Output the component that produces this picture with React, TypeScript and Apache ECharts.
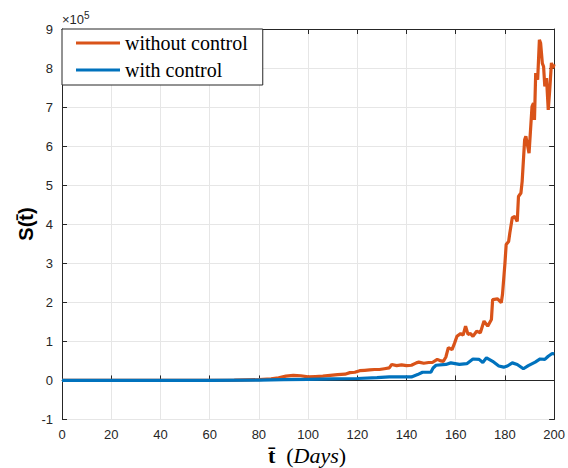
import React, { useEffect, useRef } from "react";
import * as echarts from "echarts";

// values in units of 1e5
const withoutControl: [number, number][] = [
  [0, 0], [20, 0], [40, 0.001], [60, 0.003], [70, 0.008], [80, 0.02], [85, 0.04], [88, 0.07],
  [91, 0.11], [94, 0.13], [97, 0.12], [100, 0.09], [103, 0.1], [106, 0.11], [109, 0.13],
  [112, 0.15], [115, 0.16], [117, 0.2], [119, 0.21], [121, 0.25], [123, 0.26], [125, 0.27],
  [127, 0.28], [129, 0.28], [131, 0.3], [133, 0.32], [134, 0.41], [136, 0.38], [138, 0.4],
  [140, 0.38], [142, 0.39], [144, 0.45], [145, 0.47], [147, 0.44], [149, 0.46], [150.5, 0.46],
  [152.5, 0.54], [154, 0.5], [155, 0.49], [156, 0.6], [157, 0.84], [158.5, 0.79], [159.5, 0.95],
  [160.5, 1.13], [162, 1.2], [163, 1.16], [164, 1.39], [165, 1.18], [166, 1.2], [167, 1.13],
  [168.5, 1.26], [170, 1.22], [171.5, 1.52], [173, 1.39], [174.5, 1.56], [175, 2.07], [177, 2.09],
  [178.5, 1.99], [179, 2.2], [180, 3.0], [180.5, 3.48], [181.5, 3.56], [182, 3.78], [183, 4.17],
  [184, 4.2], [185, 4.07], [185.5, 4.71], [186.5, 4.8], [187, 5.1], [188, 6.16], [188.5, 6.25],
  [189.8, 5.82], [191, 7.01], [191.6, 7.1], [192, 6.67], [192.5, 7.87], [193.3, 7.7], [194, 8.72],
  [194.5, 8.64], [195.2, 8.12], [195.7, 8.04], [196.2, 7.53], [196.9, 7.74], [197.6, 6.93],
  [198.2, 7.44], [198.9, 8.13], [199.5, 8.0], [200, 8.1],
];

const withControl: [number, number][] = [
  [0, 0], [60, 0.003], [80, 0.01], [90, 0.02], [100, 0.03], [110, 0.04], [120, 0.05], [128, 0.07],
  [133, 0.09], [142, 0.09], [144.5, 0.15], [146.5, 0.21], [149.9, 0.21], [150.8, 0.32], [152, 0.39],
  [156, 0.41], [158, 0.45], [161.5, 0.41], [164.5, 0.43], [167, 0.55], [169.5, 0.54], [171, 0.46],
  [172.5, 0.58], [175, 0.49], [177.5, 0.37], [179.5, 0.34], [181, 0.37], [183, 0.45], [185, 0.41],
  [187.5, 0.3], [189.5, 0.38], [192.3, 0.47], [194.3, 0.55], [196.2, 0.54], [197.6, 0.62],
  [199.2, 0.69], [200, 0.68],
];

const seriesNames = ["without control", "with control"];

export default function App() {
  const ref = useRef<HTMLDivElement>(null);
  useEffect(() => {
    if (!ref.current) return;
    const chart = echarts.init(ref.current, null, { renderer: "svg" });
    const axisColor = "#262626";
    const serif = "'Liberation Serif', 'Times New Roman', serif";
    const labelFont = { color: axisColor, fontSize: 13, fontFamily: "Liberation Sans, Arial, sans-serif" };
    const legendText = { color: "#000", fontSize: 20, fontFamily: serif };
    chart.setOption({
      animation: false,
      backgroundColor: "#ffffff",
      grid: { left: 62, right: 12, top: 29, bottom: 48.5, containLabel: false },
      legend: {
        left: 62,
        top: 29,
        orient: "vertical",
        data: seriesNames.map((name) => ({ name, icon: "rect" })),
        backgroundColor: "#ffffff",
        borderColor: axisColor,
        borderWidth: 1,
        borderRadius: 0,
        padding: [4, 15, 5, 14],
        itemWidth: 44,
        itemHeight: 3,
        itemGap: 7,
        textStyle: legendText,
      },
      xAxis: [
        {
          type: "value",
          min: 0,
          max: 200,
          interval: 20,
          axisLine: { show: true, lineStyle: { color: axisColor, width: 1 } },
          axisTick: { show: true, inside: true, length: 5, lineStyle: { color: axisColor } },
          axisLabel: { ...labelFont, margin: 8 },
          splitLine: { show: true, lineStyle: { color: "#e6e6e6", width: 1 } },
        },
        {
          type: "value",
          position: "top",
          min: 0,
          max: 200,
          interval: 20,
          axisLine: { show: true, onZero: false, lineStyle: { color: axisColor, width: 1 } },
          axisTick: { show: true, inside: true, length: 5, lineStyle: { color: axisColor } },
          axisLabel: { show: false },
          splitLine: { show: false },
        },
      ],
      yAxis: [
        {
          type: "value",
          min: -1,
          max: 9,
          interval: 1,
          axisLine: { show: true, onZero: false, lineStyle: { color: axisColor, width: 1 } },
          axisTick: { show: true, inside: true, length: 5, lineStyle: { color: axisColor } },
          axisLabel: { ...labelFont, margin: 9 },
          splitLine: { show: true, lineStyle: { color: "#e6e6e6", width: 1 } },
        },
        {
          type: "value",
          position: "right",
          min: -1,
          max: 9,
          interval: 1,
          axisLine: { show: true, onZero: false, lineStyle: { color: axisColor, width: 1 } },
          axisTick: { show: true, inside: true, length: 5, lineStyle: { color: axisColor } },
          axisLabel: { show: false },
          splitLine: { show: false },
        },
      ],
      series: [
        {
          name: seriesNames[0],
          type: "line",
          data: withoutControl,
          showSymbol: false,
          symbol: "none",
          lineStyle: { color: "#D95319", width: 3.2 },
          itemStyle: { color: "#D95319" },
          z: 2,
        },
        {
          name: seriesNames[1],
          type: "line",
          data: withControl,
          showSymbol: false,
          symbol: "none",
          lineStyle: { color: "#0072BD", width: 3.2 },
          itemStyle: { color: "#0072BD" },
          z: 3,
        },
      ],
      graphic: [
        {
          type: "text",
          left: 62,
          top: 10,
          style: {
            text: "×10{s|5}",
            fill: axisColor,
            fontSize: 13,
            fontFamily: "Liberation Sans, Arial, sans-serif",
            rich: { s: { fontSize: 10, verticalAlign: "top", padding: [0, 0, 8, 0], fill: axisColor } },
          },
        },
        {
          type: "text",
          x: 26,
          y: 224,
          rotation: Math.PI / 2,
          style: {
            text: "S(t\u0304)",
            fill: "#000",
            fontSize: 20,
            fontWeight: "bold",
            fontFamily: "Liberation Sans, Arial, sans-serif",
            align: "center",
            verticalAlign: "middle",
          },
        },
        {
          type: "text",
          x: 307,
          y: 455,
          style: {
            text: "{b|t\u0304}  ({i|Days})",
            fill: "#000",
            fontSize: 22,
            fontFamily: serif,
            align: "center",
            verticalAlign: "middle",
            rich: {
              b: { fontSize: 22, fontWeight: "bold", fontFamily: serif, fill: "#000" },
              i: { fontSize: 22, fontStyle: "italic", fontFamily: serif, fill: "#000" },
            },
          },
        },
      ],
    });
    return () => chart.dispose();
  }, []);
  return <div ref={ref} style={{ width: 568, height: 468, position: "absolute", left: 0, top: 0 }} />;
}
